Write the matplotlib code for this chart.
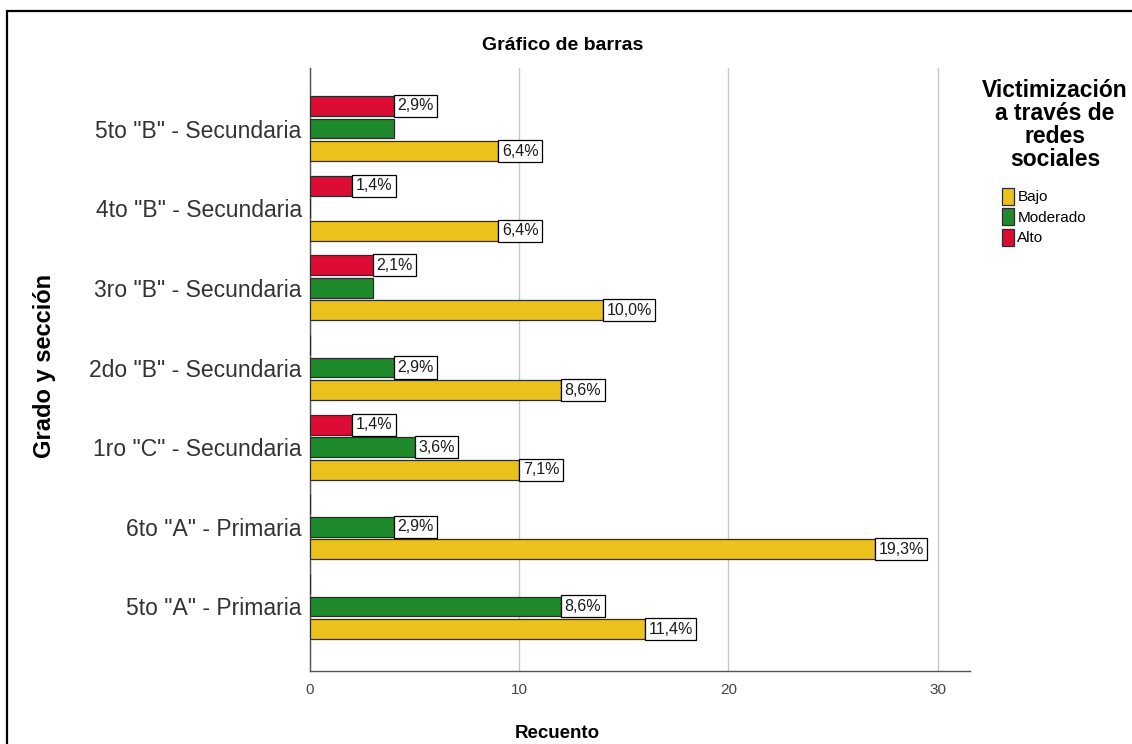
import matplotlib
matplotlib.use("Agg")
import matplotlib.pyplot as plt
from matplotlib.patches import Patch, Rectangle
import numpy as np

plt.rcParams['font.family'] = ['Liberation Sans', 'DejaVu Sans']

# categorias de abajo hacia arriba
grados = ['5to "A" - Primaria', '6to "A" - Primaria', '1ro "C" - Secundaria',
          '2do "B" - Secundaria', '3ro "B" - Secundaria', '4to "B" - Secundaria',
          '5to "B" - Secundaria']
bajo = [16, 27, 10, 12, 14, 9, 9]
moderado = [12, 4, 5, 4, 3, 0, 4]
alto = [0, 0, 2, 0, 3, 2, 4]

# etiquetas de porcentaje tal como aparecen ('' = sin etiqueta)
lab_bajo = ['11,4%', '19,3%', '7,1%', '8,6%', '10,0%', '6,4%', '6,4%']
lab_moderado = ['8,6%', '2,9%', '3,6%', '2,9%', '', '', '']
lab_alto = ['', '', '1,4%', '', '2,1%', '1,4%', '2,9%']

niveles = ['Bajo', 'Moderado', 'Alto']
colores = ['#EBC21C', '#1F8A2C', '#DC0C34']

W, H = 1132, 744
fig = plt.figure(figsize=(W / 100, H / 100), dpi=100)
ax = fig.add_axes([310 / W, 1 - 671 / H, 660 / W, 603 / H])

y = np.arange(len(grados))
off = 0.283
bh = 0.25
series = [(bajo, lab_bajo, -off), (moderado, lab_moderado, 0), (alto, lab_alto, off)]
for (vals, labs, d), col in zip(series, colores):
    bars = ax.barh(y + d, vals, height=bh, color=col, edgecolor='#2b2b2b',
                   linewidth=0.9, zorder=3)
    for b, v, t in zip(bars, vals, labs):
        if t:
            ax.annotate(t, (v, b.get_y() + bh / 2), xytext=(2.6, 0),
                        textcoords='offset points', ha='left', va='center',
                        fontsize=11.5, color='#1a1a1a', zorder=5,
                        bbox=dict(boxstyle='square,pad=0.22', fc='white',
                                  ec='black', lw=0.9))

ax.set_xlim(0, 31.55)
ax.set_ylim(-0.81, 6.76)
ax.set_xticks([0, 10, 20, 30])
ax.set_yticks(y)
ax.set_yticklabels(grados, fontsize=16.5, color='#333333')
ax.tick_params(axis='y', length=0, pad=6)
ax.tick_params(axis='x', length=0, pad=9, labelsize=11, labelcolor='#444444')
ax.grid(axis='x', color='#c8c8c8', linewidth=1, zorder=0)
for s in ['top', 'right']:
    ax.spines[s].set_visible(False)
for s in ['left', 'bottom']:
    ax.spines[s].set_color('#555555')
    ax.spines[s].set_linewidth(1)

fig.text(563 / W, 1 - 45 / H, 'Gráfico de barras', ha='center', va='center',
         fontsize=14, fontweight='bold')
fig.text(557 / W, 1 - 733 / H, 'Recuento', ha='center', va='center',
         fontsize=13.5, fontweight='bold')
fig.text(45 / W, 1 - 366 / H, 'Grado y sección', ha='center', va='center',
         rotation=90, fontsize=17, fontweight='bold')

fig.text(1055 / W, 1 - 125 / H, 'Victimización\na través de\nredes\nsociales',
         ha='center', va='center', fontsize=16.5, fontweight='bold',
         linespacing=1.0)
handles = [Patch(facecolor=c, edgecolor='#2b2b2b', linewidth=0.9) for c in colores]
fig.legend(handles, niveles, loc='upper left',
           bbox_to_anchor=(1002 / W, 1 - 188 / H), frameon=False, fontsize=11,
           handlelength=0.8, handleheight=1.3, handletextpad=0.2,
           labelspacing=0.25, borderpad=0, borderaxespad=0)

fig.patches.append(Rectangle((7 / W, -0.1), 1.2, 1 - 11 / H + 0.1,
                             transform=fig.transFigure, fill=False,
                             edgecolor='black', linewidth=1.6))

fig.savefig('out.png', dpi=100)
